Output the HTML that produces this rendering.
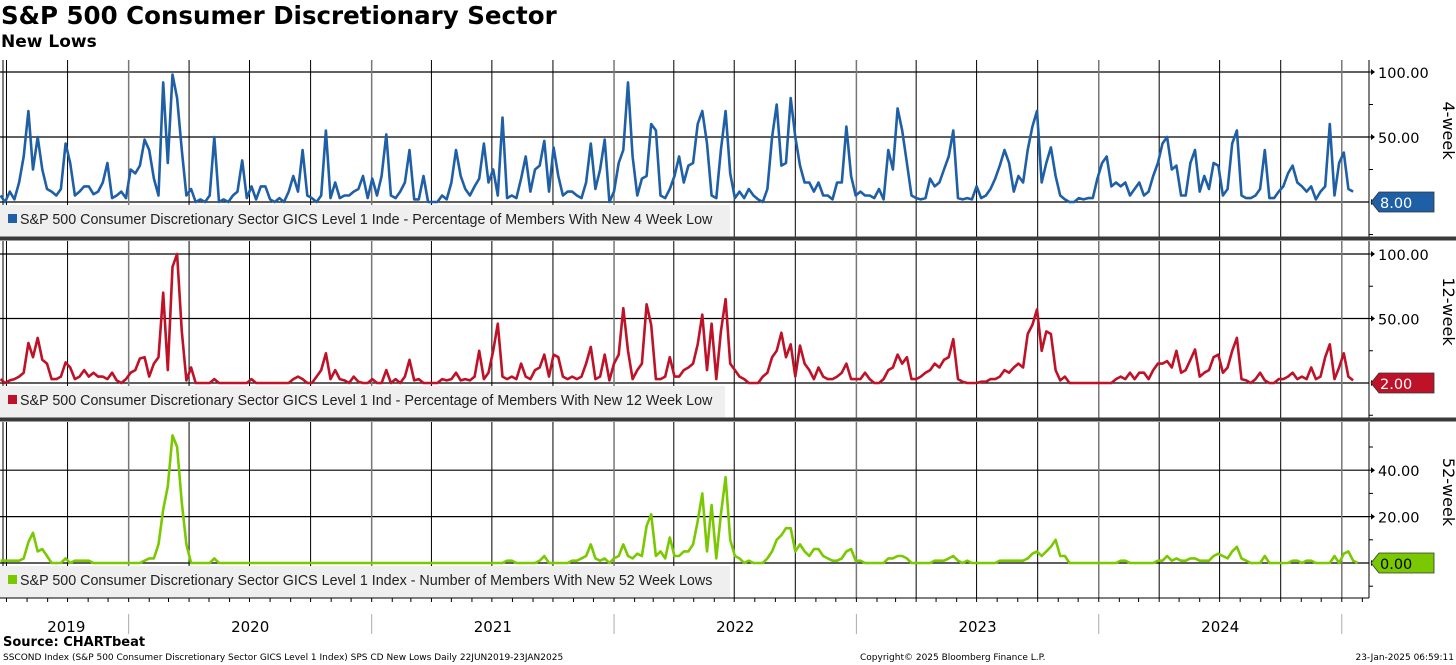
<!DOCTYPE html>
<html><head><meta charset="utf-8">
<style>
html,body{margin:0;padding:0;background:#fff;}
body{width:1456px;height:665px;overflow:hidden;position:relative;font-family:"Liberation Sans",sans-serif;}
.t{position:absolute;white-space:nowrap;}
</style></head>
<body>
<div class="t" style="left:1px;top:1px;font:bold 24.5px 'DejaVu Sans',sans-serif;color:#000;">S&amp;P 500 Consumer Discretionary Sector</div>
<div class="t" style="left:1px;top:32px;font:bold 17px 'DejaVu Sans',sans-serif;color:#000;">New Lows</div>
<div class="t" style="left:3px;top:635px;font:bold 13px 'DejaVu Sans',sans-serif;color:#000;">Source: CHARTbeat</div>
<div class="t" style="left:3px;top:653px;font:9px 'DejaVu Sans',sans-serif;color:#000;">SSCOND Index (S&amp;P 500 Consumer Discretionary Sector GICS Level 1 Index) SPS CD New Lows  Daily 22JUN2019-23JAN2025</div>
<div class="t" style="left:860px;top:653px;font:9px 'DejaVu Sans',sans-serif;color:#000;">Copyright© 2025 Bloomberg Finance L.P.</div>
<div class="t" style="right:2px;top:653px;font:9px 'DejaVu Sans',sans-serif;color:#000;">23-Jan-2025 06:59:11</div>
<svg id="chart" width="1456" height="665" style="position:absolute;left:0;top:0;" xmlns="http://www.w3.org/2000/svg"></svg>
<script>
const weekly4 = [5,0,8,2,15,35,70,25,50,25,10,8,5,10,45,30,5,8,12,12,6,8,15,30,3,5,8,3,25,22,28,48,40,18,5,92,30,98,80,40,5,10,0,2,0,5,50,0,2,0,5,8,32,3,12,2,12,12,2,0,3,0,8,20,8,40,5,3,0,5,55,3,15,3,5,5,8,10,20,3,18,5,20,52,5,3,8,15,40,2,2,20,0,0,0,5,2,15,40,20,10,5,12,18,45,15,25,5,65,3,5,3,18,35,8,25,28,47,8,42,20,5,8,8,5,3,15,45,10,25,48,0,8,30,40,92,35,5,18,20,60,55,5,3,10,20,35,15,28,30,60,70,45,5,3,40,70,22,3,8,3,10,5,2,0,10,50,75,28,30,80,50,28,15,15,8,15,5,5,2,15,15,58,20,5,8,5,5,3,10,2,40,25,72,55,30,5,3,2,3,18,12,15,25,35,55,3,2,3,2,12,3,5,10,18,28,40,30,8,20,15,40,58,70,15,30,42,20,5,2,0,0,3,2,3,3,18,30,35,12,15,12,15,5,10,15,5,8,20,30,45,50,25,28,5,5,30,40,8,20,10,30,28,5,10,45,55,5,3,3,5,10,40,3,3,8,12,22,28,15,12,8,12,2,8,12,60,5,30,38,10,8];
const weekly12 = [3,0,2,3,5,8,31,20,35,18,15,3,3,5,16,12,3,5,10,5,8,5,5,3,8,2,0,3,8,10,19,20,5,15,20,70,10,90,100,40,2,12,0,0,0,0,3,0,0,0,0,0,0,0,3,0,0,0,0,0,0,0,0,3,5,3,0,0,5,10,23,3,10,3,2,0,5,1,0,0,3,0,0,10,0,3,0,5,18,2,3,0,0,0,0,3,2,3,8,2,3,2,5,25,3,8,25,46,5,3,5,3,15,5,3,10,12,22,5,22,20,5,3,5,3,5,15,28,3,5,22,2,15,22,58,25,3,10,15,61,45,3,3,5,20,5,5,10,12,15,30,53,10,46,3,40,65,15,10,5,3,0,0,0,5,8,20,25,39,20,30,5,29,15,10,3,12,5,3,3,5,8,15,3,3,3,8,3,0,0,3,10,12,22,15,20,3,3,5,8,10,15,12,18,20,34,3,1,0,0,0,1,1,3,3,5,10,8,12,15,12,38,45,57,25,40,38,10,2,5,0,0,0,0,0,0,0,0,0,0,3,5,3,8,3,8,8,3,10,15,15,17,12,25,8,10,18,26,5,8,10,20,22,8,12,25,35,3,2,0,3,8,2,0,0,3,3,5,8,3,5,3,12,3,5,20,30,3,12,23,5,2];
const weekly52 = [1,1,1,1,1,2,9,13,5,6,3,0,0,0,2,0,1,1,1,1,0,0,0,0,0,0,0,0,0,0,0,1,2,2,8,23,33,55,50,26,8,0,0,0,0,0,2,0,0,0,0,0,0,0,0,0,0,0,0,0,0,0,0,0,0,0,0,0,0,0,0,0,0,0,0,0,0,0,0,0,0,0,0,0,0,0,0,0,0,0,0,0,0,0,0,0,0,0,0,0,0,0,0,0,0,0,0,0,0,1,1,0,0,0,0,0,1,3,0,0,0,0,0,1,1,2,3,8,2,1,2,0,2,3,8,3,2,4,3,16,21,3,5,2,11,3,3,5,5,8,18,30,5,25,2,21,37,10,3,2,0,1,0,0,0,2,5,10,12,15,15,5,8,5,3,6,6,3,2,1,1,2,5,6,1,1,0,0,0,0,0,2,2,3,3,2,0,0,0,0,0,1,1,1,2,3,1,0,1,0,0,0,0,0,0,1,1,1,1,1,1,2,4,5,3,5,7,10,3,3,0,0,0,0,0,0,0,0,0,0,0,1,1,0,0,0,0,0,0,1,1,3,1,2,1,1,2,2,1,1,1,3,4,3,2,5,7,2,1,0,0,0,3,0,0,0,0,0,1,1,0,1,1,0,0,0,0,3,0,4,5,1,0];
const lastValues = ["8.00","2.00","0.00"];
const yTicks4 = [0,50,100];
const yTicks12 = [0,50,100];
const yTicks52 = [0,20,40];
const yearLabels = ["2019","2020","2021","2022","2023","2024"];

const NS="http://www.w3.org/2000/svg";
const svg=document.getElementById('chart');
function el(tag,attrs,parent){const e=document.createElementNS(NS,tag);for(const k in attrs)e.setAttribute(k,attrs[k]);(parent||svg).appendChild(e);return e;}
const start=Date.UTC(2019,5,22);
const PXD=0.664;
function xDay(d){return d*PXD+0.5;}
function xDate(y,m,d){return xDay((Date.UTC(y,m,d)-start)/86400000);}
function xWeek(w){return xDay(w*7);}
const AX=1369;
const panels=[
 {data:weekly4,ticks:yTicks4,top:60,bot:237,zero:202,k:1.3,minor:25,color:"#1f5fa6",name:"4-week",val:lastValues[0],
  legend:"S&P 500 Consumer Discretionary Sector GICS Level 1 Inde - Percentage of Members With New 4 Week Low",lw:730,tx:"white"},
 {data:weekly12,ticks:yTicks12,top:241,bot:418,zero:383,k:1.29,minor:25,color:"#be1229",name:"12-week",val:lastValues[1],
  legend:"S&P 500 Consumer Discretionary Sector GICS Level 1 Ind - Percentage of Members With New 12 Week Low",lw:725,tx:"white"},
 {data:weekly52,ticks:yTicks52,top:422,bot:598,zero:563,k:2.32,minor:10,color:"#7ac900",name:"52-week",val:lastValues[2],
  legend:"S&P 500 Consumer Discretionary Sector GICS Level 1 Index - Number of Members With New 52 Week Lows",lw:730,tx:"black"}
];
const quarters=[];
for(let y=2019;y<=2025;y++)for(let q=0;q<4;q++){const x=xDate(y,q*3,1);if(x>2&&x<1368)quarters.push({x,year:q===0});}
panels.forEach((p,i)=>{
  const g=el('g',{});
  
  
  p.ticks.forEach(t=>{const y=p.zero-t*p.k;const l=el('line',{x1:0,x2:AX,y1:y,y2:y,stroke:"#000","stroke-width":1.2},g);
    });
  quarters.forEach(q=>{const l=el('line',{x1:q.x,x2:q.x,y1:p.top,y2:p.bot,stroke:q.year?"#777":"#000","stroke-width":q.year?1.5:1},g);
    });
  el('line',{x1:3,x2:3,y1:p.top,y2:p.bot,stroke:"#000","stroke-width":1},g);
  const lb=el('rect',{x:0,y:p.zero+3,width:p.lw,height:p.bot-p.zero-3,fill:"#efefef"},g);
  
  const sq=el('rect',{x:8,y:p.zero+12,width:9,height:9,fill:p.color},g);
  
  const lt=el('text',{x:20,y:p.zero+22,"font-family":"Liberation Sans, sans-serif","font-size":"14.3",fill:"#222"},g);
  lt.textContent=p.legend;
  let d="";
  p.data.forEach((v,w)=>{d+=(w?"L":"M")+xWeek(w).toFixed(1)+","+(p.zero-v*p.k).toFixed(1);});
  const path=el('path',{d,fill:"none",stroke:p.color,"stroke-width":2.6,"stroke-linejoin":"round"},g);
  
  el('line',{x1:AX,x2:AX,y1:p.top,y2:p.bot,stroke:"#000","stroke-width":1},g);
  for(let v=p.minor;;v+=p.minor){const y=p.zero-v*p.k;if(y<p.top+2)break;el('line',{x1:AX,x2:AX+4,y1:y,y2:y,stroke:"#000"},g);}
  for(let v=-p.minor;;v-=p.minor){const y=p.zero-v*p.k;if(y>p.bot-2)break;el('line',{x1:AX,x2:AX+4,y1:y,y2:y,stroke:"#000"},g);}
  p.ticks.forEach(t=>{const y=p.zero-t*p.k;
    el('path',{d:`M${AX+2},${y-3}L${AX+6},${y}L${AX+2},${y+3}Z`,fill:"#000"},g);
    const tl=el('text',{x:AX+9,y:y+6,"font-family":"DejaVu Sans, sans-serif","font-size":"14.5",fill:"#000"},g);
    tl.textContent=t.toFixed(2);});
  const tagY=p.zero;
  const tag=el('path',{d:`M${AX+2},${tagY}L${AX+10},${tagY-10}L${AX+65},${tagY-10}L${AX+65},${tagY+10}L${AX+10},${tagY+10}Z`,fill:p.color,stroke:"#333","stroke-width":0.8},g);
  
  const tt=el('text',{x:AX+11,y:tagY+6,"font-family":"DejaVu Sans, sans-serif","font-size":"14.5",fill:p.tx},g);
  tt.textContent=p.val;
  const cy=(p.top+p.bot)/2-18;
  const rt=el('text',{x:1443,y:cy,"font-family":"DejaVu Sans, sans-serif","font-size":"16",fill:"#000","text-anchor":"middle",transform:`rotate(90 1443 ${cy})`},g);
  rt.textContent=p.name;
});
[238.5,419.5].forEach(y=>{const l=el('rect',{x:0,y:y-2,width:1456,height:4,fill:"#3a3a3a"});
  });
el('line',{x1:0,x2:AX,y1:598,y2:598,stroke:"#000"});
for(let y=2019;y<=2025;y++)for(let m=0;m<12;m++){const x=xDate(y,m,1);if(x>2&&x<1366)el('line',{x1:x,x2:x,y1:598,y2:602,stroke:"#000"});}
const yb=[0];for(let y=2020;y<=2025;y++){const x=xDate(y,0,1);yb.push(x);if(x<1366)el('line',{x1:x,x2:x,y1:614,y2:634,stroke:"#aaa"});}
yb[6]=Math.min(yb[6],xDay(2042));
yearLabels.forEach((lab,i)=>{const cx=(yb[i]+yb[i+1])/2+(i===0?2:0);
  const t=el('text',{x:cx,y:632,"font-family":"DejaVu Sans, sans-serif","font-size":"15",fill:"#000","text-anchor":"middle"});
  t.textContent=lab;});
</script>
</body></html>
